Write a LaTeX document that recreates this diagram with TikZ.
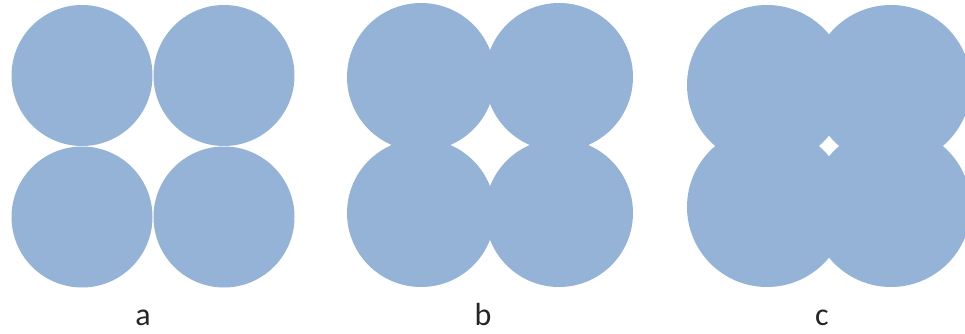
\documentclass[tikz,border=0pt]{standalone}
\usepackage{fontspec}
\setmainfont{Carlito}
\definecolor{discblue}{RGB}{149,179,215}
\tikzset{disc/.style={fill=discblue},
  lab/.style={anchor=base,font=\fontsize{32}{34}\selectfont,text=black!85,inner sep=0pt,text depth=0pt}}
\begin{document}
\begin{tikzpicture}[x=1pt,y=-1pt]
\useasboundingbox (0,0) rectangle (965,334);
% group a
\fill[disc] (82,75.5) circle[radius=70.5];
\fill[disc] (224,75.5) circle[radius=70.5];
\fill[disc] (82,217) circle[radius=70.5];
\fill[disc] (224,217) circle[radius=70.5];
% group b
\fill[disc] (421,77) circle[radius=74];
\fill[disc] (559,77) circle[radius=74];
\fill[disc] (421,213) circle[radius=74];
\fill[disc] (559,213) circle[radius=74];
% group c
\fill[disc] (767,85) circle[radius=80];
\fill[disc] (891,85) circle[radius=80];
\fill[disc] (767,207) circle[radius=80];
\fill[disc] (891,207) circle[radius=80];
% labels
\node[lab] (la) at (143,325) {a};
\node[lab] (lb) at (483,325) {b};
\node[lab] (lc) at (822,325) {c};
\end{tikzpicture}
\end{document}
